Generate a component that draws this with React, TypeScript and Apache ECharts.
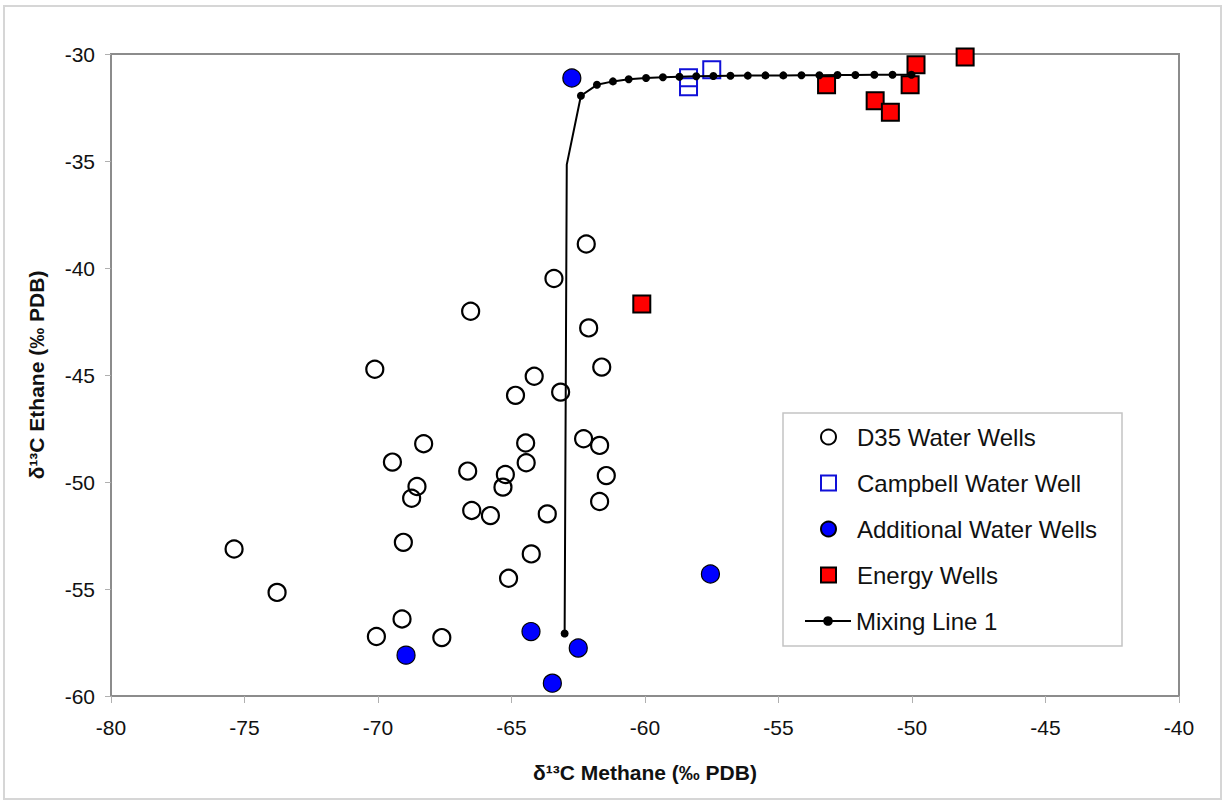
import React, { useEffect, useRef } from "react";
import * as echarts from "echarts";

// ---- Data ----
const d35X = [-62.20, -63.41, -66.53, -62.11, -70.12, -61.62, -64.15, -64.85, -63.16, -68.29, -64.47, -62.30, -61.70, -69.46, -64.45, -66.64, -65.23, -61.45, -68.54, -65.32, -68.74, -61.70, -66.49, -65.79, -63.66, -69.05, -75.39, -64.26, -65.11, -73.78, -69.10, -70.06, -67.61];
const d35Y = [-38.88, -40.49, -42.02, -42.80, -44.73, -44.63, -45.06, -45.95, -45.80, -48.21, -48.18, -47.98, -48.29, -49.07, -49.10, -49.49, -49.65, -49.70, -50.21, -50.24, -50.76, -50.91, -51.33, -51.57, -51.49, -52.82, -53.13, -53.36, -54.50, -55.16, -56.40, -57.22, -57.27];

const campbellX = [-58.37, -58.37, -57.50];
const campbellY = [-31.11, -31.53, -30.74];

const additionalX = [-62.74, -68.95, -64.27, -62.50, -63.47, -57.55];
const additionalY = [-31.12, -58.09, -56.99, -57.76, -59.40, -54.30];

const energyX = [-60.12, -53.20, -51.38, -50.81, -50.07, -49.85, -48.01];
const energyY = [-41.68, -31.44, -32.19, -32.72, -31.44, -30.50, -30.14];

const mixX = [-63.01, -62.93, -62.40, -61.80, -61.20, -60.61, -59.96, -59.33, -58.71, -58.08, -57.44, -56.80, -56.15, -55.49, -54.82, -54.14, -53.47, -52.79, -52.12, -51.41, -50.73, -50.02];
const mixY = [-57.08, -35.17, -31.95, -31.44, -31.28, -31.18, -31.12, -31.09, -31.06, -31.04, -31.03, -31.02, -31.01, -31.00, -31.00, -30.99, -30.99, -30.98, -30.98, -30.97, -30.97, -30.97];
const mixMarker = [true, false, true, true, true, true, true, true, true, true, true, true, true, true, true, true, true, true, true, true, true, true];

const seriesNames = ["D35 Water Wells", "Campbell Water Well", "Additional Water Wells", "Energy Wells", "Mixing Line 1"];
const xTitle = "δ¹³C Methane (‰ PDB)";
const yTitle = "δ¹³C Ethane (‰ PDB)";

const FONT = "'Liberation Sans', Arial, Helvetica, sans-serif";

const zip = (xs: number[], ys: number[]) => xs.map((x, i) => [x, ys[i]]);

export default function App() {
  const ref = useRef<HTMLDivElement>(null);

  useEffect(() => {
    const chart = echarts.init(ref.current!, null, { renderer: "svg" });
    const legendText = { fontSize: 24, lineHeight: 24, fontFamily: FONT, color: "#111" };
    chart.setOption({
      animation: false,
      backgroundColor: "#ffffff",
      grid: {
        left: 111,
        right: 46,
        top: 54,
        bottom: 109,
        show: true,
        borderColor: "#8c8c8c",
        borderWidth: 2,
        backgroundColor: "transparent",
      },
      xAxis: {
        type: "value",
        min: -80,
        max: -40,
        interval: 5,
        name: xTitle,
        nameLocation: "middle",
        nameGap: 66,
        nameTextStyle: { fontSize: 21, fontWeight: "bold", fontFamily: FONT, color: "#111" },
        axisLine: { show: true, onZero: false, lineStyle: { color: "#8c8c8c", width: 2 } },
        axisTick: { show: true, inside: false, length: 7, lineStyle: { color: "#b0b0b0", width: 1 } },
        axisLabel: { fontSize: 21, fontFamily: FONT, color: "#111", margin: 21 },
        splitLine: { show: false },
      },
      yAxis: {
        type: "value",
        min: -60,
        max: -30,
        interval: 5,
        name: yTitle,
        nameLocation: "middle",
        nameGap: 64,
        nameRotate: 90,
        nameTextStyle: { fontSize: 21, fontWeight: "bold", fontFamily: FONT, color: "#111" },
        axisLine: { show: true, onZero: false, lineStyle: { color: "#8c8c8c", width: 2 } },
        axisTick: { show: true, inside: false, length: 6, lineStyle: { color: "#b0b0b0", width: 1 } },
        axisLabel: { fontSize: 21, fontFamily: FONT, color: "#111", margin: 16 },
        splitLine: { show: false },
      },
      legend: [
        {
          data: seriesNames.slice(0, 4),
          orient: "vertical",
          left: 820,
          top: 425,
          padding: 0,
          itemWidth: 15,
          itemHeight: 15,
          itemGap: 22,
          selectedMode: false,
          textStyle: { ...legendText, padding: [0, 0, 0, 16] },
        },
        {
          data: seriesNames.slice(4),
          orient: "vertical",
          left: 804,
          top: 609,
          padding: 0,
          itemWidth: 46,
          itemHeight: 12,
          selectedMode: false,
          textStyle: legendText,
        },
      ],
      graphic: [
        {
          type: "rect",
          silent: true,
          z: -10,
          shape: { x: 4, y: 6, width: 1217, height: 793 },
          style: { fill: "none", stroke: "#d6d6d6", lineWidth: 2 },
        },
        {
          type: "rect",
          silent: true,
          z: 0,
          shape: { x: 783, y: 413, width: 339, height: 233 },
          style: { fill: "#ffffff", stroke: "#c4c4c4", lineWidth: 1.5 },
        },
      ],
      series: [
        {
          name: seriesNames[0],
          type: "scatter",
          data: zip(d35X, d35Y),
          symbol: "circle",
          symbolSize: 17,
          itemStyle: { color: "rgba(255,255,255,0)", borderColor: "#000", borderWidth: 2.2, opacity: 1 },
          emphasis: { disabled: true },
          z: 3,
        },
        {
          name: seriesNames[1],
          type: "scatter",
          data: zip(campbellX, campbellY),
          symbol: "rect",
          symbolSize: 17,
          itemStyle: { color: "rgba(255,255,255,0)", borderColor: "#1010d8", borderWidth: 2, opacity: 1 },
          emphasis: { disabled: true },
          z: 3,
        },
        {
          name: seriesNames[2],
          type: "scatter",
          data: zip(additionalX, additionalY),
          symbol: "circle",
          symbolSize: 18,
          itemStyle: { color: "#0000ff", borderColor: "#000", borderWidth: 1.2, opacity: 1 },
          emphasis: { disabled: true },
          z: 3,
        },
        {
          name: seriesNames[3],
          type: "scatter",
          data: zip(energyX, energyY),
          symbol: "rect",
          symbolSize: 17,
          itemStyle: { color: "#ff0000", borderColor: "#000", borderWidth: 2, opacity: 1 },
          emphasis: { disabled: true },
          z: 3,
        },
        {
          name: seriesNames[4],
          type: "line",
          data: mixX.map((x, i) =>
            mixMarker[i] ? [x, mixY[i]] : { value: [x, mixY[i]], symbol: "none" }
          ),
          symbol: "circle",
          symbolSize: 8,
          showAllSymbol: true,
          lineStyle: { color: "#000", width: 2 },
          itemStyle: { color: "#000", borderColor: "#000", borderWidth: 0, opacity: 1 },
          emphasis: { disabled: true },
          z: 4,
        },
      ],
    });
    return () => chart.dispose();
  }, []);

  return (
    <div
      ref={ref}
      style={{ position: "absolute", left: 0, top: 0, width: 1225, height: 805, background: "#fff" }}
    />
  );
}
